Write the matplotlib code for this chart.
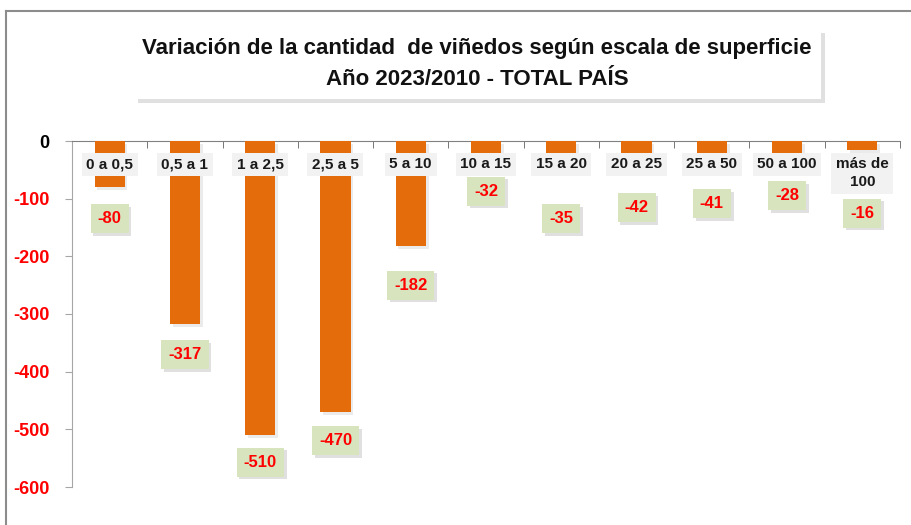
import matplotlib
matplotlib.use("Agg")
import matplotlib.pyplot as plt
import matplotlib.patheffects as pe
from matplotlib.lines import Line2D
import numpy as np

categories = ["0 a 0,5", "0,5 a 1", "1 a 2,5", "2,5 a 5", "5 a 10", "10 a 15",
              "15 a 20", "20 a 25", "25 a 50", "50 a 100", "más de\n100"]
values = [-80, -317, -510, -470, -182, -32, -35, -42, -41, -28, -16]
label_y = [-135, -371, -557, -520, -250, -87, -135, -116, -109, -95, -125]
yticks = [0, -100, -200, -300, -400, -500, -600]
title = "Variación de la cantidad  de viñedos según escala de superficie\nAño 2023/2010 - TOTAL PAÍS"

FONT = "Liberation Sans"
plt.rcParams['font.family'] = [FONT, 'DejaVu Sans']

W, H = 911, 525
fig = plt.figure(figsize=(W / 100, H / 100), dpi=100)
ax = fig.add_axes([72 / W, 1 - 487 / H, (900 - 72) / W, (487 - 141) / H])

x = np.arange(len(categories))
bars = ax.bar(x, values, width=0.4, color="#E46C0A", zorder=3)
for b in bars:
    b.set_path_effects([pe.SimplePatchShadow(offset=(2, -2), shadow_rgbFace="#b0b0b0", alpha=0.25), pe.Normal()])

ax.set_xlim(-0.5, len(categories) - 0.5)
ax.set_ylim(-600, 0)

for s in ["right", "bottom"]:
    ax.spines[s].set_visible(False)
ax.spines["left"].set_color("#a6a6a6")
ax.spines["top"].set_color("#808080")

ax.set_yticks(yticks)
ax.set_yticklabels([str(v) for v in yticks])
ax.tick_params(axis="y", direction="out", length=5, color="#a6a6a6", pad=11,
               labelsize=13)
for lab, v in zip(ax.get_yticklabels(), yticks):
    lab.set_fontweight("bold")
    lab.set_color("black" if v == 0 else "#FF0000")

ax.set_xticks([])
ax.xaxis.set_ticks_position("top")
ax.set_xticks(np.arange(-0.5, len(categories), 1.0), minor=True)
ax.tick_params(axis="x", which="minor", direction="in", length=5, color="#606060", top=True, bottom=False)
ax.tick_params(axis="x", which="major", top=False, bottom=False)

for xi, c in zip(x, categories):
    ax.text(xi, -28, c, ha="center", va="top", fontsize=11, fontweight="bold",
            color="#1a1a1a", zorder=5, linespacing=1.35,
            bbox=dict(boxstyle="square,pad=0.3", fc="#f2f2f2", ec="none"))

for xi, v, ly in zip(x, values, label_y):
    t = ax.text(xi, ly, str(v), ha="center", va="center", fontsize=12, fontweight="bold",
                color="#FF0000", zorder=6,
                bbox=dict(boxstyle="square,pad=0.42", fc="#D7E4BD", ec="none"))
    t.get_bbox_patch().set_path_effects([pe.SimplePatchShadow(offset=(2, -2), shadow_rgbFace="#999999", alpha=0.3), pe.Normal()])

# title box
tt = fig.text(477 / W, 1 - 64 / H, title, ha="center", va="center", fontsize=16,
              fontweight="bold", color="#111111", linespacing=1.6,
              bbox=dict(boxstyle="square,pad=0.4", fc="white", ec="none"))
tt.get_bbox_patch().set_path_effects([pe.SimplePatchShadow(offset=(3, -3), shadow_rgbFace="#999999", alpha=0.3), pe.Normal()])

# outer frame (left and top visible)
fig.add_artist(Line2D([6 / W, 6 / W], [0, 1 - 11 / H], transform=fig.transFigure, color="#8c8c8c", lw=1.5))
fig.add_artist(Line2D([6 / W, 1], [1 - 11 / H, 1 - 11 / H], transform=fig.transFigure, color="#8c8c8c", lw=1.5))

fig.savefig("out.png", dpi=100)
